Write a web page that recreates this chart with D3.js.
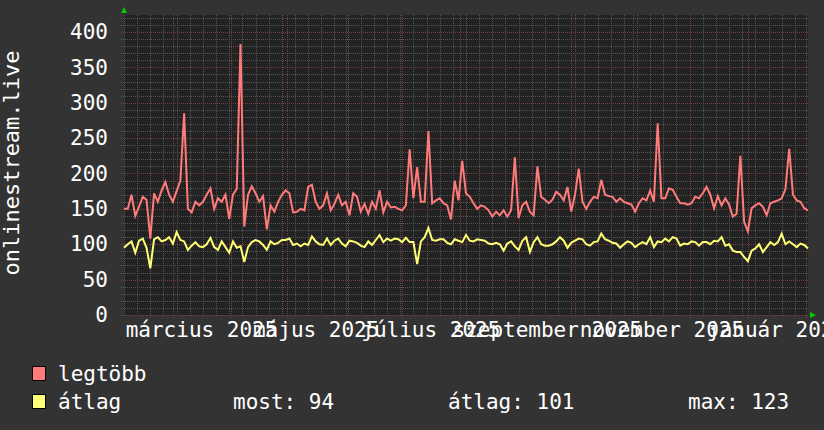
<!DOCTYPE html>
<html>
<head>
<meta charset="utf-8">
<script src="https://cdn.jsdelivr.net/npm/d3@7"></script>
<style>
    html, body { margin: 0; padding: 0; background: #333333; }
    svg { display: block; font-family: "DejaVu Sans Mono", monospace; }
</style>
</head>
<body>
<div id="vis-container"></div>
<script>
"use strict";

// Time range of the graph, one value every two days
const startDate = new Date(2025, 1, 3);
const endDate = new Date(2026, 1, 2);
const stepDays = 2;

// "legtöbb" (peak) series
const maxValues = [
    150, 150, 170, 140, 153, 167, 163, 108, 172, 160, 176, 188, 170, 160, 175, 190, 285, 150, 145, 160,
    155, 160, 170, 179, 150, 165, 160, 170, 136, 170, 178, 383, 125, 170, 182, 172, 160,
    168, 121, 155, 146, 160, 170, 176, 172, 145, 146, 150, 148, 181, 184, 160, 150, 155, 172, 148,
    157, 170, 155, 160, 141, 172, 167, 146, 157, 143, 160, 150, 176, 145, 160, 152,
    153, 150, 148, 155, 234, 165, 209, 160, 160, 260, 158, 162, 165, 158, 155, 135, 190, 162, 218, 172,
    167, 158, 150, 155, 153, 148, 139, 146, 141, 148, 139, 148, 223, 137, 155, 160,
    146, 141, 210, 167, 163, 158, 163, 174, 170, 162, 181, 146, 170, 207, 160, 150, 160, 167, 165, 191,
    170, 168, 167, 160, 165, 160, 158, 156, 146, 158, 165, 162, 176, 160, 271, 165,
    165, 179, 177, 167, 158, 158, 156, 158, 167, 165, 172, 181, 170, 151, 168, 155, 165, 156, 139, 143,
    225, 132, 118, 151, 155, 158, 153, 141, 158, 160, 162, 165, 178, 235, 170, 162, 160, 151, 148
];

// "átlag" (average) series
const avgValues = [
    95, 100, 104, 88, 105, 108, 95, 66, 107, 110, 104, 106, 110, 101, 117, 106, 104, 92, 98, 103,
    97, 96, 100, 109, 96, 92, 104, 96, 88, 104, 95, 97, 75, 96, 103, 106, 104,
    99, 92, 104, 100, 102, 106, 106, 108, 99, 101, 97, 101, 99, 111, 104, 100, 99, 108, 99,
    105, 108, 101, 97, 105, 104, 102, 98, 96, 104, 99, 106, 113, 103, 108, 105,
    108, 107, 103, 109, 103, 103, 72, 104, 110, 123, 106, 105, 107, 107, 102, 100, 107, 105, 103, 113,
    105, 104, 107, 106, 105, 101, 100, 102, 100, 91, 101, 104, 97, 92, 105, 110,
    89, 103, 110, 100, 98, 98, 100, 104, 110, 105, 95, 102, 105, 108, 107, 100, 98, 103, 104, 115,
    107, 105, 102, 101, 95, 100, 104, 102, 96, 100, 103, 100, 110, 96, 104, 103,
    108, 104, 110, 108, 98, 101, 100, 104, 103, 98, 103, 103, 100, 105, 104, 110, 98, 100, 91, 89,
    89, 82, 76, 91, 94, 100, 89, 96, 103, 99, 103, 115, 100, 104, 100, 96, 101, 99, 94
];

const yTicks = [0, 50, 100, 150, 200, 250, 300, 350, 400];
const xLabelDates = [
    new Date(2025, 2, 16), new Date(2025, 4, 16), new Date(2025, 6, 16),
    new Date(2025, 8, 16), new Date(2025, 10, 16), new Date(2026, 0, 16)
];
const xLabels = ["március 2025", "május 2025", "július 2025", "szeptember 2025", "november 2025", "január 2026"];
const seriesNames = ["legtöbb", "átlag"];
const seriesColors = ["#ff7b7b", "#ffff75"];
const statLabels = ["most: 94", "átlag: 101", "max: 123"];
const yTitle = "onlinestream.live";

function mainIndex()
{
    const width = 824;
    const height = 430;
    const plot = { left: 124, right: 808, top: 15, bottom: 315 };

    const x = d3.scaleTime().domain([startDate, endDate]).range([plot.left, plot.right]);
    const y = d3.scaleLinear().domain([0, 424]).range([plot.bottom, plot.top]);

    const dateAt = i => d3.timeDay.offset(startDate, i * stepDays);

    const svg = d3.select("#vis-container")
        .append("svg")
        .attr("width", width)
        .attr("height", height);

    svg.append("rect")
        .attr("width", width)
        .attr("height", height)
        .attr("fill", "#333333");

    svg.append("rect")
        .attr("x", plot.left)
        .attr("y", plot.top)
        .attr("width", plot.right - plot.left)
        .attr("height", plot.bottom - plot.top)
        .attr("fill", "#222222");

    const grid = svg.append("g").attr("shape-rendering", "crispEdges");

    // minor grid: every 10 units and every monday
    grid.selectAll(".hminor")
        .data(d3.range(0, 421, 10).filter(v => v % 50 !== 0))
        .enter()
        .append("line")
        .attr("x1", plot.left - 3)
        .attr("x2", plot.right)
        .attr("y1", d => Math.round(y(d)) + 0.5)
        .attr("y2", d => Math.round(y(d)) + 0.5)
        .attr("stroke", "#555555")
        .attr("stroke-dasharray", "1,1");

    grid.selectAll(".vminor")
        .data(d3.timeMonday.range(startDate, endDate))
        .enter()
        .append("line")
        .attr("x1", d => Math.round(x(d)) + 0.5)
        .attr("x2", d => Math.round(x(d)) + 0.5)
        .attr("y1", plot.top)
        .attr("y2", plot.bottom + 2)
        .attr("stroke", "#555555")
        .attr("stroke-dasharray", "1,1");

    // major grid: every 50 units and every month
    grid.selectAll(".hmajor")
        .data(yTicks)
        .enter()
        .append("line")
        .attr("x1", plot.left - 3)
        .attr("x2", plot.right)
        .attr("y1", d => Math.round(y(d)) + 0.5)
        .attr("y2", d => Math.round(y(d)) + 0.5)
        .attr("stroke", "#7a3c3c")
        .attr("stroke-dasharray", "1,1");

    grid.selectAll(".vmajor")
        .data(d3.timeMonth.range(startDate, endDate))
        .enter()
        .append("line")
        .attr("x1", d => Math.round(x(d)) + 0.5)
        .attr("x2", d => Math.round(x(d)) + 0.5)
        .attr("y1", plot.top)
        .attr("y2", plot.bottom + 3)
        .attr("stroke", "#7a3c3c")
        .attr("stroke-dasharray", "1,1");

    // y-axis labels
    const yAxis = d3.axisLeft(y).tickValues(yTicks).tickSize(0).tickPadding(16);
    svg.append("g")
        .attr("transform", `translate(${plot.left},0)`)
        .call(yAxis)
        .call(g => g.select(".domain").remove())
        .selectAll("text")
        .attr("fill", "#ffffff")
        .style("font-family", "DejaVu Sans Mono")
        .style("font-size", "21px");

    // x-axis labels
    const xAxis = d3.axisBottom(x)
        .tickValues(xLabelDates)
        .tickFormat((d, i) => xLabels[i])
        .tickSize(0)
        .tickPadding(7);
    svg.append("g")
        .attr("transform", `translate(0,${plot.bottom})`)
        .call(xAxis)
        .call(g => g.select(".domain").remove())
        .selectAll("text")
        .attr("fill", "#ffffff")
        .style("font-family", "DejaVu Sans Mono")
        .style("font-size", "21px");

    // vertical label
    svg.append("text")
        .attr("transform", "translate(19,163) rotate(-90)")
        .attr("text-anchor", "middle")
        .attr("fill", "#ffffff")
        .style("font-size", "22px")
        .text(yTitle);

    // arrows at the axis ends
    svg.append("path")
        .attr("d", `M${plot.left - 3},13 L${plot.left + 3},13 L${plot.left},7 Z`)
        .attr("fill", "#00cc00");
    svg.append("path")
        .attr("d", `M${plot.right + 2},${plot.bottom - 3} L${plot.right + 2},${plot.bottom + 3} L${plot.right + 8},${plot.bottom} Z`)
        .attr("fill", "#00cc00");

    // series lines
    const line = d3.line()
        .x((d, i) => x(dateAt(i)))
        .y(d => y(d));

    [maxValues, avgValues].forEach((values, k) => {
        svg.append("path")
            .datum(values)
            .attr("d", line)
            .attr("fill", "none")
            .attr("stroke", seriesColors[k])
            .attr("stroke-width", 2)
            .attr("stroke-linejoin", "miter");
    });

    // legend
    const legend = svg.append("g").attr("id", "legend");
    seriesNames.forEach((name, i) => {
        const row = legend.append("g").attr("transform", `translate(0,${366 + i * 28})`);
        row.append("rect")
            .attr("x", 32.5)
            .attr("y", 0.5)
            .attr("width", 13)
            .attr("height", 14)
            .attr("fill", seriesColors[i])
            .attr("stroke", "#000000");
        row.append("text")
            .attr("x", 58)
            .attr("y", 15)
            .attr("fill", "#ffffff")
            .style("font-size", "21px")
            .text(name);
    });

    const statX = [233, 448, 688];
    statLabels.forEach((s, i) => {
        legend.append("text")
            .attr("x", statX[i])
            .attr("y", 409)
            .attr("fill", "#ffffff")
            .style("font-size", "21px")
            .text(s);
    });
}

document.addEventListener("DOMContentLoaded", mainIndex);
</script>
</body>
</html>
